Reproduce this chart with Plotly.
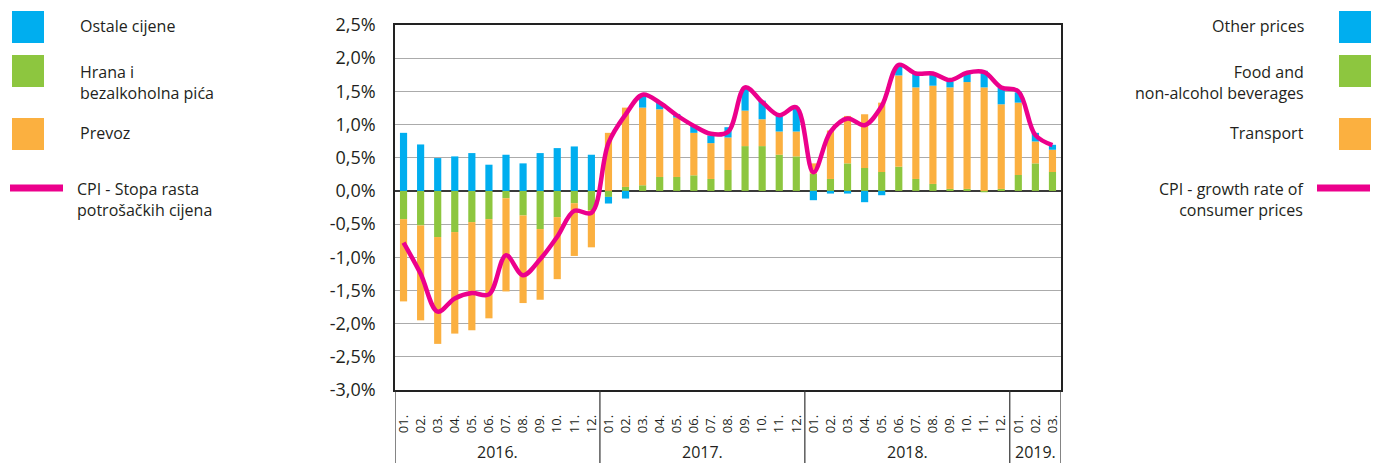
import plotly.graph_objects as go

months = ["01.", "02.", "03.", "04.", "05.", "06.", "07.", "08.", "09.", "10.", "11.", "12.",
          "01.", "02.", "03.", "04.", "05.", "06.", "07.", "08.", "09.", "10.", "11.", "12.",
          "01.", "02.", "03.", "04.", "05.", "06.", "07.", "08.", "09.", "10.", "11.", "12.",
          "01.", "02.", "03."]
years = ["2016.", "2017.", "2018.", "2019."]
year_counts = [12, 12, 12, 3]

food = [-0.425, -0.52, -0.695, -0.62, -0.47, -0.425, -0.11, -0.37, -0.575, -0.395, -0.185, -0.29,
        -0.09, 0.06, 0.085, 0.21, 0.21, 0.235, 0.18, 0.315, 0.675, 0.675, 0.545, 0.52,
        0.26, 0.18, 0.415, 0.345, 0.285, 0.365, 0.18, 0.105, 0.03, 0.03, -0.02, 0.03,
        0.24, 0.415, 0.285]
transport = [-1.24, -1.43, -1.61, -1.53, -1.63, -1.495, -1.405, -1.32, -1.065, -0.935, -0.795, -0.56,
             0.875, 1.195, 1.17, 1.02, 0.895, 0.64, 0.54, 0.49, 0.535, 0.405, 0.35, 0.375,
             0.155, 0.73, 0.715, 0.81, 1.045, 1.375, 1.38, 1.48, 1.53, 1.61, 1.56, 1.275,
             1.09, 0.33, 0.335]
other = [0.875, 0.70, 0.495, 0.52, 0.57, 0.395, 0.545, 0.415, 0.57, 0.645, 0.67, 0.545,
         -0.10, -0.115, 0.205, 0.095, 0.055, 0.11, 0.115, 0.155, 0.35, 0.28, 0.24, 0.36,
         -0.14, -0.04, -0.04, -0.17, -0.065, 0.16, 0.215, 0.19, 0.09, 0.135, 0.25, 0.255,
         0.155, 0.13, 0.075]
cpi = [-0.78, -1.25, -1.82, -1.62, -1.54, -1.56, -0.97, -1.27, -1.03, -0.69, -0.30, -0.33,
       0.72, 1.15, 1.45, 1.33, 1.14, 0.98, 0.86, 0.89, 1.56, 1.34, 1.14, 1.26,
       0.28, 0.89, 1.09, 0.99, 1.28, 1.90, 1.77, 1.77, 1.67, 1.78, 1.79, 1.56,
       1.50, 0.84, 0.69]

y_ticks = [2.5, 2.0, 1.5, 1.0, 0.5, 0.0, -0.5, -1.0, -1.5, -2.0, -2.5, -3.0]
y_ticktext = ["2,5%", "2,0%", "1,5%", "1,0%", "0,5%", "0,0%", "-0,5%", "-1,0%",
              "-1,5%", "-2,0%", "-2,5%", "-3,0%"]

legend_left = ["Ostale cijene", "Hrana i<br>bezalkoholna pića", "Prevoz",
               "CPI - Stopa rasta<br>potrošačkih cijena"]
legend_right = ["Other prices", "Food and<br>non-alcohol beverages", "Transport",
                "CPI - growth rate of<br>consumer prices"]

BLUE = "#00AEEF"
GREEN = "#8DC63F"
ORANGE = "#FBB040"
PINK = "#EC008C"
TXT = "#231F20"
FONT = "Open Sans"

W, H = 1376, 463
L, R, T, B = 395, 1061, 25, 390
PW, PH = R - L, B - T


def px(x):
    return (x - L) / PW


def py(y):
    return (B - y) / PH


x = list(range(len(months)))

fig = go.Figure()
fig.add_bar(x=x, y=food, marker_color=GREEN, marker_line_width=0, name="food")
fig.add_bar(x=x, y=transport, marker_color=ORANGE, marker_line_width=0, name="transport")
fig.add_bar(x=x, y=other, marker_color=BLUE, marker_line_width=0, name="other")
fig.add_scatter(x=x, y=cpi, mode="lines", line=dict(color=PINK, width=4.5, shape="spline", smoothing=1.0),
                name="cpi")

shapes = []
annotations = []

# year separators and labels
start = 0
for yr, n in zip(years, year_counts):
    annotations.append(dict(x=start + (n - 1) / 2, y=py(452), xref="x", yref="paper",
                            text=yr, showarrow=False, yanchor="middle", xanchor="center",
                            font=dict(family=FONT, size=16, color=TXT)))
    start += n
bounds = [-0.5]
s = 0
for n in year_counts:
    s += n
    bounds.append(s - 0.5)
for bx in bounds:
    shapes.append(dict(type="line", xref="x", yref="paper", x0=bx, x1=bx, y0=0, y1=py(H),
                       line=dict(color="#333333", width=1.2)))

# legends
sq_tops = [11, 55, 118]
colors = [BLUE, GREEN, ORANGE]
text_y = [26, 82, 133]
for i in range(3):
    shapes.append(dict(type="rect", xref="paper", yref="paper", x0=px(12), x1=px(44),
                       y0=py(sq_tops[i] + 32), y1=py(sq_tops[i]), fillcolor=colors[i], line_width=0))
    shapes.append(dict(type="rect", xref="paper", yref="paper", x0=px(1339), x1=px(1371),
                       y0=py(sq_tops[i] + 32), y1=py(sq_tops[i]), fillcolor=colors[i], line_width=0))
shapes.append(dict(type="line", xref="paper", yref="paper", x0=px(10), x1=px(63), y0=py(188), y1=py(188),
                   line=dict(color=PINK, width=7)))
shapes.append(dict(type="line", xref="paper", yref="paper", x0=px(1317), x1=px(1370), y0=py(188), y1=py(188),
                   line=dict(color=PINK, width=7)))

for i, t in enumerate(legend_left):
    ty = text_y[i] if i < 3 else 199
    xx = 78 if i < 3 else 75
    annotations.append(dict(x=px(xx), y=py(ty), xref="paper", yref="paper", text=t, showarrow=False,
                            xanchor="left", yanchor="middle", align="left",
                            font=dict(family=FONT, size=16, color=TXT)))
for i, t in enumerate(legend_right):
    ty = text_y[i] if i < 3 else 199
    annotations.append(dict(x=px(1306), y=py(ty), xref="paper", yref="paper", text=t, showarrow=False,
                            xanchor="right", yanchor="middle", align="right",
                            font=dict(family=FONT, size=16, color=TXT)))

fig.update_layout(
    width=W, height=H,
    margin=dict(l=L, r=W - R, t=T, b=H - B, pad=0),
    barmode="relative", bargap=0.58,
    plot_bgcolor="white", paper_bgcolor="white",
    showlegend=False,
    shapes=shapes, annotations=annotations,
    font=dict(family=FONT, color=TXT),
)
fig.update_xaxes(range=[-0.5, len(months) - 0.5], tickmode="array", tickvals=x, ticktext=months,
                 tickangle=-90, showgrid=False, zeroline=False, showline=True, linecolor="#222222",
                 linewidth=1.5, mirror=True, ticks="", ticklabelstandoff=18,
                 tickfont=dict(family=FONT, size=13, color=TXT))
fig.update_yaxes(range=[-3.0, 2.5], tickmode="array", tickvals=y_ticks, ticktext=y_ticktext,
                 showgrid=True, gridcolor="#ABABAB", gridwidth=1.2,
                 zeroline=True, zerolinecolor="#3A3A3A", zerolinewidth=1.8,
                 showline=True, linecolor="#222222", linewidth=1.5, mirror=True, ticks="",
                 ticklabelstandoff=14, tickfont=dict(family=FONT, size=18, color=TXT))

fig.write_html("out.html", config={"displayModeBar": False},
               post_script="document.body.style.margin='0';document.body.style.padding='0';")
